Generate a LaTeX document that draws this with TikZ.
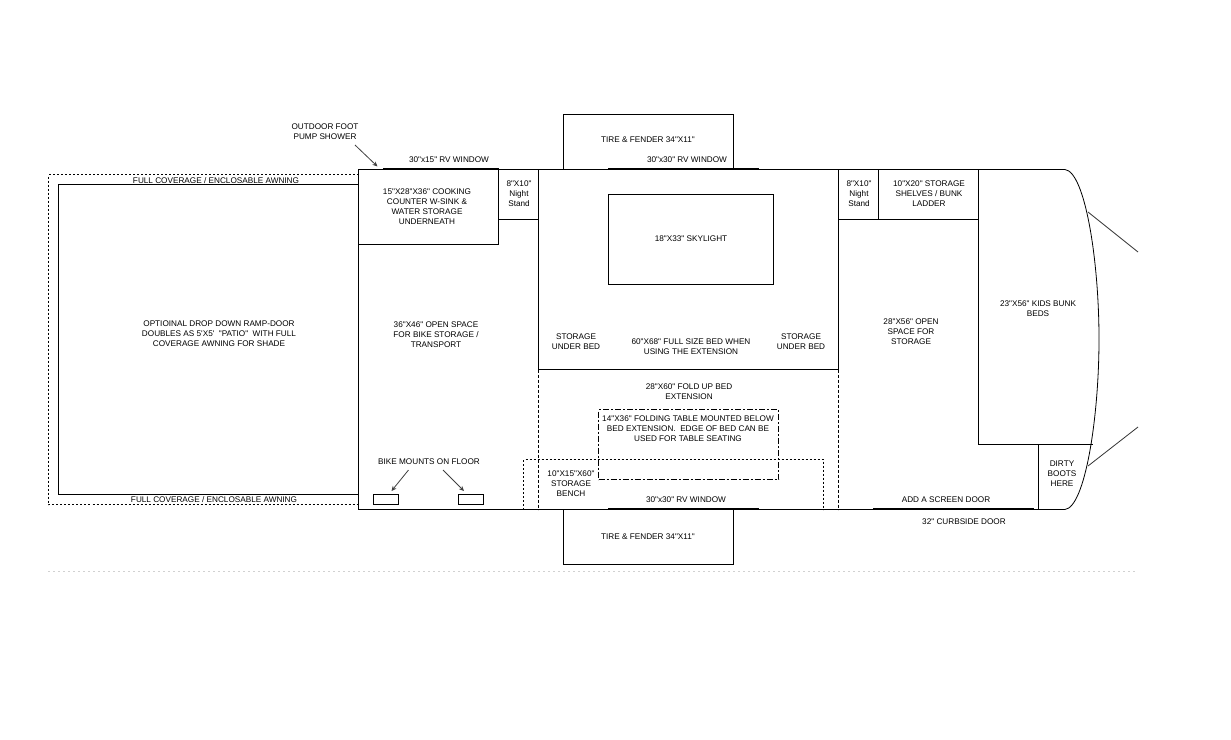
\documentclass[tikz,border=0pt]{standalone}
\usepackage{fontspec}
\setmainfont{Liberation Sans}[Ligatures=TeXOff]
\usetikzlibrary{arrows.meta}
\tikzset{
 x=1pt,y=-1pt,
 wall/.style={draw=black,line width=0.8pt,outer sep=0pt},
 thick line/.style={draw=black,line width=1.8pt},
 dash line/.style={draw=black,line width=0.8pt,dash pattern=on 3pt off 2pt,outer sep=0pt},
 dot line/.style={draw=black,line width=0.8pt,dash pattern=on 2pt off 2pt},
 pointer/.style={draw=black!75,line width=0.8pt,-{Stealth[length=5pt,width=4.5pt]}},
 lab/.style={font=\fontsize{8.2}{10}\selectfont,align=center,inner sep=0pt,text=black,yshift=-0.9pt},
}
\begin{document}
\begin{tikzpicture}
\useasboundingbox (0,0) rectangle (1231,739);
% faint line
\draw[draw=black!18,line width=0.8pt,dash pattern=on 2pt off 3pt] (48,571) -- (1135,571);
% awning
\coordinate (awA) at (358.5,174.5);\coordinate (awB) at (48.5,174.5);\coordinate (awC) at (48.5,504.5);\coordinate (awD) at (358.5,504.5);
\draw[dot line] (awA)--(awB)--(awC)--(awD);
% ramp
\coordinate (rA) at (358.5,184.5);\coordinate (rB) at (58.5,184.5);\coordinate (rC) at (58.5,494.5);\coordinate (rD) at (358.5,494.5);
\draw[wall] (rA)--(rB)--(rC)--(rD);
% tires
\node[wall,minimum width=170pt,minimum height=55pt,inner sep=0pt,anchor=north west] (tireT) at (563.5,114.5) {};
\node[wall,minimum width=170pt,minimum height=55pt,inner sep=0pt,anchor=north west] (tireB) at (563.5,509.5) {};
% outer
\coordinate (oTL) at (358.5,169.5);\coordinate (oBL) at (358.5,509.5);\coordinate (oTR) at (1065,169.5);\coordinate (oBR) at (1065,509.5);
\draw[wall] (oTR)--(oTL)--(oBL)--(oBR);
\draw[wall] (oTR) .. controls (1085,172) and (1099,260) .. (1099,339) .. controls (1099,418) and (1085,507) .. (oBR);
\coordinate (hA) at (1088,212);\coordinate (hB) at (1138,252);\coordinate (hC) at (1088,466);\coordinate (hD) at (1138,427);
\draw[draw=black!80,line width=0.8pt] (hA)--(hB);
\draw[draw=black!80,line width=0.8pt] (hC)--(hD);
% rooms
\node[wall,minimum width=140pt,minimum height=75pt,inner sep=0pt,anchor=north west] (counter) at (358.5,169.5) {};
\coordinate (nsA) at (498.5,219.5);\coordinate (nsB) at (538.5,219.5);
\draw[wall] (nsA)--(nsB);
\coordinate (bedTL) at (538.5,169.5);\coordinate (bedBL) at (538.5,369.5);\coordinate (bedTR) at (838.5,169.5);\coordinate (bedBR) at (838.5,369.5);
\coordinate (xBL) at (538.5,509.5);\coordinate (xBR) at (838.5,509.5);
\draw[wall] (bedTL)--(bedBL)--(bedBR)--(bedTR);
\draw[dash line] (bedBL)--(xBL);
\draw[dash line] (bedBR)--(xBR);
\node[wall,minimum width=165pt,minimum height=90pt,inner sep=0pt,anchor=north west] (sky) at (608.5,194.5) {};
\coordinate (n2a) at (878.5,169.5);\coordinate (n2b) at (878.5,219.5);\coordinate (n2c) at (838.5,219.5);\coordinate (n2d) at (978.5,219.5);
\draw[wall] (n2a)--(n2b);\draw[wall] (n2c)--(n2d);
\coordinate (bkA) at (978.5,169.5);\coordinate (bkB) at (978.5,444.5);\coordinate (bkC) at (1093,444.5);
\draw[wall] (bkA)--(bkB)--(bkC);
\coordinate (btA) at (1038.5,444.5);\coordinate (btB) at (1038.5,509.5);
\draw[wall] (btA)--(btB);
% table and bench
\node[dash line,dash pattern=on 6pt off 2pt on 2pt off 2pt,minimum width=180pt,minimum height=70pt,inner sep=0pt,anchor=north west] (table) at (598.5,409.5) {};
\coordinate (bA) at (523.5,509.5);\coordinate (bB) at (523.5,459.5);\coordinate (bC) at (823.5,459.5);\coordinate (bD) at (823.5,509.5);
\draw[dot line] (bA)--(bB)--(bC)--(bD);
% windows and door
\coordinate (w1a) at (383,169);\coordinate (w1b) at (498.5,169);
\coordinate (w2a) at (608,169);\coordinate (w2b) at (759,169);
\coordinate (w3a) at (608,509);\coordinate (w3b) at (759,509);
\coordinate (w4a) at (873,509);\coordinate (w4b) at (1033.5,509);
\draw[thick line] (w1a)--(w1b);\draw[thick line] (w2a)--(w2b);\draw[thick line] (w3a)--(w3b);\draw[thick line] (w4a)--(w4b);
% mounts
\node[wall,minimum width=25pt,minimum height=10pt,inner sep=0pt,anchor=north west] (m1) at (373.5,494.5) {};
\node[wall,minimum width=25pt,minimum height=10pt,inner sep=0pt,anchor=north west] (m2) at (458.5,494.5) {};
% labels
\node[lab] (pump) at (325,131) {OUTDOOR FOOT\\PUMP SHOWER};
\node[lab] (t1) at (449,159) {30"x15" RV WINDOW};
\node[lab] (t2) at (216,179.5) {FULL COVERAGE / ENCLOSABLE AWNING};
\node[lab] (t3) at (214,499) {FULL COVERAGE / ENCLOSABLE AWNING};
\node[lab] (t4) at (427,206) {15"X28"X36" COOKING\\COUNTER W-SINK \&\\WATER STORAGE\\UNDERNEATH};
\node[lab] (t5) at (519,193) {8"X10"\\Night\\Stand};
\node[lab] (t6) at (859,193) {8"X10"\\Night\\Stand};
\node[lab] (t7) at (648,139) {TIRE \& FENDER 34"X11"};
\node[lab] (t8) at (687,159) {30"x30" RV WINDOW};
\node[lab] (t9) at (691,238) {18"X33" SKYLIGHT};
\node[lab] (t10) at (929,193) {10"X20" STORAGE\\SHELVES / BUNK\\LADDER};
\node[lab] (t11) at (1038,308) {23"X56" KIDS BUNK\\BEDS};
\node[lab] (t12) at (911,331) {28"X56" OPEN\\SPACE FOR\\STORAGE};
\node[lab] (t13) at (576,341) {STORAGE\\UNDER BED};
\node[lab] (t14) at (801,341) {STORAGE\\UNDER BED};
\node[lab] (t15) at (691,346) {60"X68" FULL SIZE BED WHEN\\USING THE EXTENSION};
\node[lab] (t16) at (689,391) {28"X60" FOLD UP BED\\EXTENSION};
\node[lab] (t17) at (688,428) {14"X36" FOLDING TABLE MOUNTED BELOW\\BED EXTENSION.~~EDGE OF BED CAN BE\\USED FOR TABLE SEATING};
\node[lab] (t18) at (571,483) {10"X15"X60"\\STORAGE\\BENCH};
\node[lab] (t19) at (686,499) {30"x30" RV WINDOW};
\node[lab] (t20) at (648,536) {TIRE \& FENDER 34"X11"};
\node[lab] (bike) at (429,461) {BIKE MOUNTS ON FLOOR};
\node[lab] (t21) at (436,334) {36"X46" OPEN SPACE\\FOR BIKE STORAGE /\\TRANSPORT};
\node[lab] (t22) at (219,333) {OPTIOINAL DROP DOWN RAMP-DOOR\\DOUBLES AS 5'X5'~~"PATIO"~~WITH FULL\\COVERAGE AWNING FOR SHADE};
\node[lab] (t23) at (946,499) {ADD A SCREEN DOOR};
\node[lab] (t24) at (964,521) {32" CURBSIDE DOOR};
\node[lab] (t25) at (1062,473) {DIRTY\\BOOTS\\HERE};
% arrows
\coordinate (pumpEnd) at (377.5,166.5);
\coordinate (p1) at (355,145);
\coordinate (a1) at (408.5,470);\coordinate (a1e) at (391.5,491);
\coordinate (a2) at (443,470);\coordinate (a2e) at (464,491);
\draw[pointer] (p1)--(pumpEnd);
\draw[pointer] (a1)--(a1e);
\draw[pointer] (a2)--(a2e);
\end{tikzpicture}
\end{document}
